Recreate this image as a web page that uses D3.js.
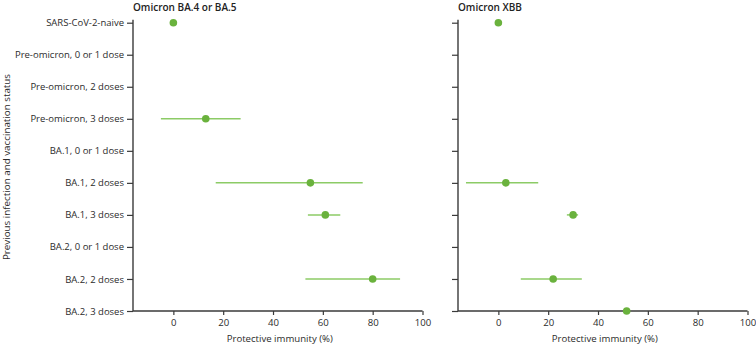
<!DOCTYPE html>
<html>
<head>
<meta charset="utf-8">
<script src="https://cdn.jsdelivr.net/npm/d3@7"></script>
<style>
  html, body { margin: 0; padding: 0; background: #fff; }
  svg { display: block; font-family: "Open Sans", "Noto Sans", sans-serif; }
</style>
</head>
<body>
<svg id="chart" width="756" height="347"></svg>
<script>
const categories = [
  "SARS-CoV-2-naive",
  "Pre-omicron, 0 or 1 dose",
  "Pre-omicron, 2 doses",
  "Pre-omicron, 3 doses",
  "BA.1, 0 or 1 dose",
  "BA.1, 2 doses",
  "BA.1, 3 doses",
  "BA.2, 0 or 1 dose",
  "BA.2, 2 doses",
  "BA.2, 3 doses"
];
const panelTitles = ["Omicron BA.4 or BA.5", "Omicron XBB"];
const xTicks = [0, 20, 40, 60, 80, 100];

// Omicron BA.4 or BA.5: [category, estimate, lower, upper] (null = no CI)
const ba45Data = [
  ["SARS-CoV-2-naive", 0, null, null],
  ["Pre-omicron, 3 doses", 13, -5, 27],
  ["BA.1, 2 doses", 55, 17, 76],
  ["BA.1, 3 doses", 61, 54, 67],
  ["BA.2, 2 doses", 80, 53, 91]
];
// Omicron XBB
const xbbData = [
  ["SARS-CoV-2-naive", 0, null, null],
  ["BA.1, 2 doses", 3, -13, 16],
  ["BA.1, 3 doses", 30, 27.5, 32],
  ["BA.2, 2 doses", 22, 9, 33.5],
  ["BA.2, 3 doses", 51.5, null, null]
];

const svg = d3.select("#chart");
const pointColor = "#6ab23d";
const lineColor = "#8ccb66";
const axisColor = "#3a3a3a";
const textColor = "#2b2b2b";

const y = d3.scalePoint().domain(categories).range([22.7, 311]);

const panels = [
  { x0: 133, data: ba45Data, title: panelTitles[0], showLabels: true },
  { x0: 458, data: xbbData, title: panelTitles[1], showLabels: false }
];

panels.forEach(p => {
  const x = d3.scaleLinear().domain([-16.2, 100]).range([p.x0, p.x0 + 289.5]);
  const g = svg.append("g");

  // y axis
  const yAxis = d3.axisLeft(y).tickSize(6).tickPadding(3)
    .tickFormat(p.showLabels ? (d => d) : () => "");
  const ya = g.append("g").attr("transform", `translate(${p.x0},0)`).call(yAxis);
  ya.select(".domain").attr("d", `M0,${y(categories[0]) - 3}V${y(categories[categories.length-1])}`)
    .attr("stroke", axisColor).attr("stroke-width", 1.4);
  ya.selectAll(".tick line").attr("stroke", axisColor).attr("stroke-width", 1.2);
  ya.selectAll(".tick text").attr("fill", textColor)
    .style("font-size", "9.5px").style("font-family", "'Open Sans', sans-serif");

  // x axis
  const xAxis = d3.axisBottom(x).tickValues(xTicks).tickSize(4).tickPadding(4).tickFormat(d3.format("d"));
  const xa = g.append("g").attr("transform", `translate(0,${y(categories[categories.length-1])})`).call(xAxis);
  xa.select(".domain").attr("d", `M${p.x0},0H${x(100)}`)
    .attr("stroke", axisColor).attr("stroke-width", 1.4);
  xa.selectAll(".tick line").attr("stroke", axisColor).attr("stroke-width", 1.2);
  xa.selectAll(".tick text").attr("fill", textColor)
    .style("font-size", "9.6px").style("font-family", "'Open Sans', sans-serif");

  // axis title
  g.append("text")
    .attr("x", (x(-16.2) + x(100)) / 2 + 2)
    .attr("y", 342)
    .attr("text-anchor", "middle")
    .attr("fill", textColor)
    .style("font-size", "9.6px")
    .text("Protective immunity (%)");

  // panel title
  g.append("text")
    .attr("x", p.x0)
    .attr("y", 11)
    .attr("fill", "#222")
    .style("font-size", "10px")
    .style("font-weight", "600")
    .text(p.title);

  // CIs
  g.selectAll("line.ci").data(p.data.filter(d => d[2] !== null)).join("line")
    .attr("class", "ci")
    .attr("x1", d => x(d[2])).attr("x2", d => x(d[3]))
    .attr("y1", d => y(d[0])).attr("y2", d => y(d[0]))
    .attr("stroke", lineColor).attr("stroke-width", 1.5);

  // points
  g.selectAll("circle.pt").data(p.data).join("circle")
    .attr("class", "pt")
    .attr("cx", d => x(d[1])).attr("cy", d => y(d[0]))
    .attr("r", 3.8)
    .attr("fill", pointColor);
});

// y axis title
svg.append("text")
  .attr("transform", "translate(10,167) rotate(-90)")
  .attr("text-anchor", "middle")
  .attr("fill", textColor)
  .style("font-size", "9.8px")
  .text("Previous infection and vaccination status");
</script>
</body>
</html>
